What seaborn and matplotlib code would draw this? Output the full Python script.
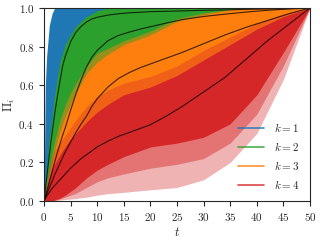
import numpy as np
import pandas as pd
import matplotlib
matplotlib.use("Agg")
import matplotlib.pyplot as plt
from matplotlib.lines import Line2D
import seaborn as sns

# time grid for the mean curves
T_MEAN = [0, 0.5, 1, 1.5, 2, 2.5, 3, 3.5, 4, 5, 6, 7, 8, 9, 10, 12, 14, 16, 18, 20,
          23, 26, 30, 34, 38, 42, 46, 50]
MEAN_K1 = [0, .12, .24, .35, .45, .54, .62, .70, .75, .825, .875, .905, .928, .943, .952, .963,
           .97, .975, .978, .981, .983, .985, .988, .99, .993, .995, .997, 1]
MEAN_K2 = [0, .05, .1, .15, .2, .25, .295, .34, .38, .47, .555, .63, .695, .745, .78, .83,
           .858, .875, .89, .903, .922, .94, .956, .968, .979, .988, .995, 1]
MEAN_K3 = [0, .035, .07, .1, .135, .165, .195, .225, .255, .305, .355, .4, .44, .49, .53, .59,
           .635, .665, .69, .71, .74, .77, .815, .86, .9, .935, .97, 1]
MEAN_K4 = [0, .025, .045, .065, .08, .095, .11, .125, .14, .17, .195, .22, .24, .26, .28, .31,
           .335, .355, .375, .395, .44, .49, .565, .64, .735, .83, .915, 1]

# time grid for the envelopes of the trajectory clouds
T = [0, 0.25, 0.5, 1, 1.5, 2, 3, 4, 5, 6, 8, 10, 12, 15, 20, 25, 30, 35, 40, 45, 50]
BLUE_LO = [0, .025, .05, .1, .15, .2, .3, .38, .47, .54, .695, .77, .815, .865, .9, .932, .955, .97, .983, .993, 1]
BLUE_HI = [0, .6, .75, .91, .97, 1, 1, 1, 1, 1, 1, 1, 1, 1, 1, 1, 1, 1, 1, 1, 1]
GREEN_LO = [0, .015, .03, .07, .1, .13, .2, .27, .32, .37, .45, .525, .58, .65, .705, .755, .81, .865, .915, .965, 1]
GREEN_HI = [0, .08, .17, .33, .43, .55, .72, .81, .86, .905, .955, .985, 1, 1, 1, 1, 1, 1, 1, 1, 1]
ORANGE_LO = [0, .01, .02, .04, .06, .08, .11, .145, .17, .19, .24, .28, .315, .35, .395, .47, .56, .665, .78, .895, 1]
ORANGE_HI = [0, .04, .09, .17, .24, .31, .42, .5, .56, .61, .7, .765, .79, .83, .88, .945, .975, .993, 1, 1, 1]
ORANGE_IN_HI = [0, .03, .07, .14, .2, .26, .36, .44, .5, .56, .66, .72, .76, .81, .86, .93, .965, .99, 1, 1, 1]
RED_LO = [0, 0, 0, 0, 0, .002, .005, .008, .01, .013, .02, .03, .038, .045, .058, .07, .11, .2, .35, .63, 1]
RED_HI = [0, .05, .09, .17, .22, .26, .3, .34, .38, .42, .49, .54, .575, .61, .645, .7, .78, .85, .92, .97, 1]
RED_MID_LO = [0, 0, 0, 0, 0, .003, .01, .02, .03, .04, .07, .1, .12, .14, .17, .19, .22, .3, .45, .7, 1]
RED_IN_LO = [0, 0, 0, 0, 0, .005, .015, .03, .05, .07, .12, .16, .19, .23, .28, .3, .33, .4, .55, .77, 1]
RED_IN_HI = [0, .03, .06, .12, .16, .19, .24, .28, .32, .35, .41, .46, .5, .55, .59, .65, .73, .81, .89, .955, 1]

K_LABELS = ["$k = 1$", "$k = 2$", "$k = 3$", "$k = 4$"]
COLORS = ["#1f77b4", "#2ca02c", "#ff7f0e", "#d62728"]

sns.set_style("ticks")
plt.rcParams["font.family"] = "serif"
plt.rcParams["font.serif"] = ["cmr10", "DejaVu Serif"]
plt.rcParams["mathtext.fontset"] = "cm"
plt.rcParams["axes.formatter.use_mathtext"] = True
plt.rcParams["axes.unicode_minus"] = False

fig = plt.figure(figsize=(3.2, 2.4), dpi=100)
ax = fig.add_axes([0.1375, 0.1625, 0.83125, 0.8042])

t = np.array(T)
bands = [
    (BLUE_LO, BLUE_HI, COLORS[0], 1.0),
    (GREEN_LO, GREEN_HI, COLORS[1], 1.0),
    (ORANGE_LO, ORANGE_HI, COLORS[2], 0.5),
    (ORANGE_LO, ORANGE_IN_HI, COLORS[2], 1.0),
    (RED_LO, RED_HI, COLORS[3], 0.35),
    (RED_MID_LO, RED_IN_HI, COLORS[3], 0.45),
    (RED_IN_LO, RED_IN_HI, COLORS[3], 1.0),
]
for lo, hi, col, a in bands:
    ax.fill_between(t, lo, hi, color=col, alpha=a, lw=0)

means = pd.DataFrame({
    "t": T_MEAN * 4,
    "pi": MEAN_K1 + MEAN_K2 + MEAN_K3 + MEAN_K4,
    "k": np.repeat([1, 2, 3, 4], len(T_MEAN)),
})
sns.lineplot(data=means, x="t", y="pi", units="k", estimator=None,
             color="black", lw=0.8, alpha=0.75, ax=ax, legend=False)

handles = [Line2D([], [], color=c, lw=1.2, alpha=0.85) for c in COLORS]
ax.legend(handles, K_LABELS, loc="lower right", frameon=False, fontsize=8,
          handlelength=2.4, handletextpad=0.9, borderaxespad=0.5, labelspacing=0.55)

ax.set_xlim(0, 50)
ax.set_ylim(0, 1)
ax.set_xticks(np.arange(0, 51, 5))
ax.set_yticks(np.arange(0, 1.01, 0.2))
ax.tick_params(labelsize=8, length=3.5, width=0.8)
for s in ax.spines.values():
    s.set_linewidth(0.8)
ax.set_xlabel("$t$", fontsize=9, labelpad=2)
ax.set_ylabel(r"$\Pi_i$", fontsize=9, labelpad=1)

fig.savefig("out.png", dpi=100)
